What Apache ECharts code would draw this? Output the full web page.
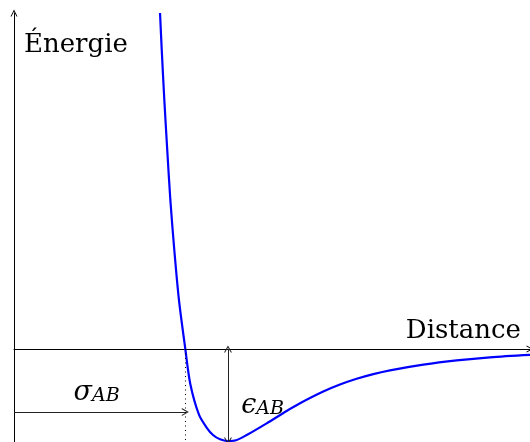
<!DOCTYPE html>
<html>
<head>
<meta charset="utf-8">
<script src="https://cdn.jsdelivr.net/npm/echarts@6/dist/echarts.min.js"></script>
<style>
  html, body { margin: 0; padding: 0; background: #fff; }
  #myChart { width: 530px; height: 442px; }
</style>
</head>
<body>
<div id="myChart"></div>
<script>
// courbe (unités réduites : distance / sigma, énergie / epsilon)
const distance = [0.849, 0.859, 0.874, 0.891, 0.909, 0.932, 0.959, 0.996, 1.025, 1.076, 1.122, 1.157, 1.198, 1.244, 1.291, 1.353, 1.469, 1.585, 1.663, 1.798, 1.895, 1.992, 2.089, 2.186, 2.380, 2.574, 2.767, 3.0]
const energy = [3.652, 3.250, 2.707, 2.163, 1.620, 1.076, 0.533, 0, -0.380, -0.717, -0.859, -0.935, -0.982, -1.0, -0.992, -0.935, -0.808, -0.674, -0.590, -0.463, -0.387, -0.324, -0.273, -0.232, -0.170, -0.124, -0.091, -0.065]

// annotations
const sigmaAB = 0.996
const sigmaArrowY = -0.685
const sigmaLabel = [0.48, -0.47]
const epsilonX = 1.244
const epsilonAB = -1.0
const epsilonLabel = [1.445, -0.61]

const xRange = [0, 3.0]
const yRange = [-1.011, 3.652]

const arrowHead = 'path://M0,10 L5,0 L10,10 L8.6,10 L5,3 L1.4,10 Z'
const serif = 'DejaVu Serif'

let myChart = echarts.init(document.getElementById('myChart'))
myChart.setOption({
  animation: false,
  grid: { left: 14, right: 0, top: 13, bottom: 0 },
  xAxis: {
    type: 'value',
    min: xRange[0],
    max: xRange[1],
    name: 'Distance',
    nameLocation: 'end',
    nameGap: -9,
    nameTextStyle: {
      fontFamily: serif, fontSize: 26, color: '#000',
      align: 'right', verticalAlign: 'bottom', padding: [0, 0, 5, 0],
    },
    axisLine: {
      onZero: true,
      symbol: ['none', arrowHead],
      symbolSize: [8, 7],
      lineStyle: { color: '#000', width: 1 },
    },
    axisTick: { show: false },
    axisLabel: { show: false },
    splitLine: { show: false },
  },
  yAxis: {
    type: 'value',
    min: yRange[0],
    max: yRange[1],
    name: 'Énergie',
    nameLocation: 'end',
    nameGap: -19,
    nameTextStyle: {
      fontFamily: serif, fontSize: 26, color: '#000',
      align: 'left', verticalAlign: 'top', padding: [0, 0, 0, 10],
    },
    axisLine: {
      show: true,
      onZero: false,
      symbol: ['none', arrowHead],
      symbolSize: [8, 7],
      lineStyle: { color: '#000', width: 1 },
    },
    axisTick: { show: false },
    axisLabel: { show: false },
    splitLine: { show: false },
  },
  series: [
    {
      type: 'line',
      data: distance.map((d, i) => [d, energy[i]]),
      smooth: 0.3,
      showSymbol: false,
      clip: true,
      lineStyle: { color: '#0000ff', width: 2.2 },
      markLine: {
        silent: true,
        animation: false,
        label: { show: false },
        data: [
          [
            { coord: [xRange[0], sigmaArrowY], symbol: 'none' },
            { coord: [sigmaAB, sigmaArrowY], symbol: arrowHead, symbolSize: [8, 7] },
          ],
          [
            { coord: [epsilonX, 0], symbol: arrowHead, symbolSize: [8, 7] },
            { coord: [epsilonX, epsilonAB], symbol: arrowHead, symbolSize: [8, 7] },
          ],
          [
            { coord: [sigmaAB, 0], symbol: 'none', lineStyle: { type: [1, 3.5], color: '#000' } },
            { coord: [sigmaAB, yRange[0]], symbol: 'none' },
          ],
        ],
        lineStyle: { color: '#222', width: 1, type: 'solid' },
      },
      markPoint: {
        silent: true,
        symbol: 'circle',
        symbolSize: 0,
        label: {
          show: true,
          position: 'inside',
          color: '#000',
          rich: {
            g: { fontFamily: serif, fontStyle: 'italic', fontSize: 27, lineHeight: 26, verticalAlign: 'top' },
            s: { fontFamily: serif, fontStyle: 'italic', fontSize: 19, lineHeight: 19, verticalAlign: 'bottom', padding: [11, 0, 0, 0] },
          },
        },
        data: [
          { coord: sigmaLabel, label: { formatter: '{g|σ}{s|AB}' } },
          { coord: epsilonLabel, label: { formatter: '{g|ϵ}{s|AB}' } },
        ],
      },
    },
  ],
})
</script>
</body>
</html>
